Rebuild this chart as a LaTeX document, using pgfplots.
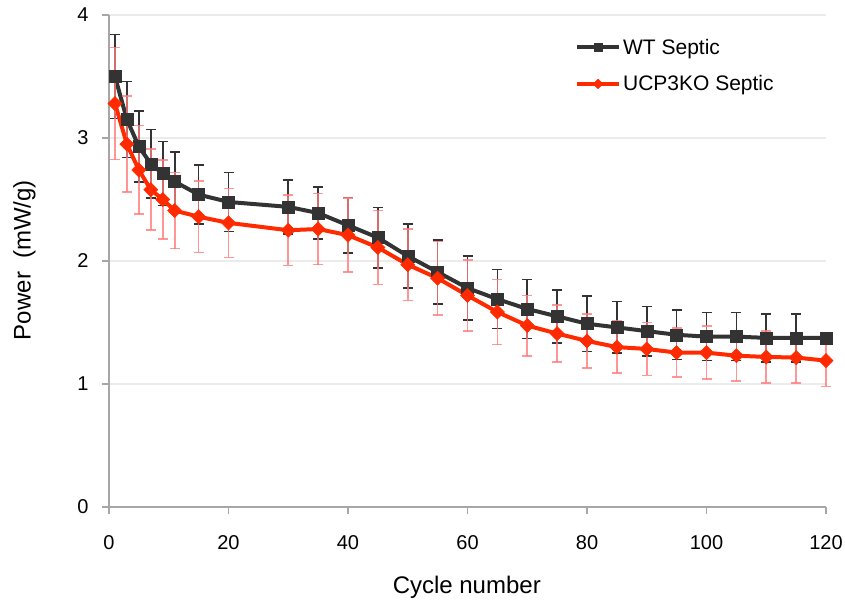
\documentclass[border=0pt]{standalone}
\usepackage{pgfplots}
\pgfplotsset{compat=1.18}
\usepackage{pgfplotstable}
\usepackage{fontspec}
\setmainfont{Liberation Sans}
\definecolor{wtcol}{HTML}{333333}
\definecolor{kocol}{HTML}{FF2A00}
\definecolor{koerr}{HTML}{FF7A7A}
\definecolor{axgray}{HTML}{A6A6A6}
\definecolor{gridgray}{HTML}{EBEBEB}
\pgfplotstableread{
x y e
1 3.50 0.34
3 3.15 0.31
5 2.93 0.29
7 2.79 0.28
9 2.71 0.26
11 2.645 0.24
15 2.54 0.24
20 2.48 0.24
30 2.44 0.22
35 2.39 0.21
40 2.29 0.225
45 2.19 0.245
50 2.04 0.26
55 1.91 0.26
60 1.78 0.26
65 1.69 0.24
70 1.61 0.24
75 1.55 0.215
80 1.49 0.225
85 1.46 0.21
90 1.43 0.20
95 1.40 0.20
100 1.385 0.195
105 1.385 0.195
110 1.375 0.195
115 1.375 0.195
120 1.375 0
}\wt
\pgfplotstableread{
x y e
1 3.28 0.455
3 2.95 0.39
5 2.74 0.36
7 2.58 0.33
9 2.50 0.32
11 2.41 0.31
15 2.36 0.29
20 2.31 0.28
30 2.25 0.285
35 2.26 0.29
40 2.21 0.30
45 2.11 0.30
50 1.97 0.29
55 1.86 0.30
60 1.72 0.29
65 1.585 0.265
70 1.475 0.245
75 1.41 0.23
80 1.35 0.22
85 1.30 0.21
90 1.285 0.215
95 1.255 0.20
100 1.255 0.215
105 1.23 0.205
110 1.22 0.21
115 1.215 0.205
120 1.19 0.21
}\ko
\begin{document}
\begin{tikzpicture}
\begin{axis}[
  name=ax,
  scale only axis,
  width=717pt, height=492pt,
  xmin=0, xmax=120, ymin=0, ymax=4,
  xtick={0,20,...,120}, ytick={0,1,2,3,4},
  axis x line*=bottom, axis y line*=left,
  axis line style={axgray, line width=1.2pt, -},
  tick style={axgray, line width=1.2pt},
  tick align=outside,
  major tick length=7pt,
  ymajorgrids, grid style={gridgray, line width=1.2pt},
  /pgf/number format/assume math mode=true,
  ticklabel style={font=\fontsize{20}{23}\selectfont, text=black},
  xticklabel style={yshift=-18pt},
  yticklabel style={xshift=-10pt},
  xlabel={Cycle number},
  ylabel={Power\ \ (mW/g)},
  label style={font=\fontsize{24}{28}\selectfont},
  xlabel style={at={(axis description cs:0.499,-0.163)}, anchor=center},
  ylabel style={at={(axis description cs:-0.118,0.502)}, anchor=center, rotate=0},
  legend style={draw=none, fill=none, at={(axis description cs:0.647,0.96)}, anchor=north west,
    font=\fontsize{21}{25}\selectfont, row sep=16pt, inner sep=2pt,
    /tikz/every even column/.append style={column sep=0pt}},
  legend cell align=left,
  legend image code/.code={
    \draw[#1, mark=none] (0pt,0pt) -- (42pt,0pt);
    \draw[#1, every mark/.append style={scale=0.68}] plot[only marks] coordinates {(21pt,0pt)};
  },
  clip=false,
]
\addplot[wtcol, line width=4pt, mark=square*, mark size=6pt, mark options={solid, line width=0.5pt},
  error bars/.cd, y dir=both, y explicit,
  error bar style={color=wtcol, line width=1.6pt},
  error mark options={rotate=90, mark size=5pt, line width=1.6pt, wtcol}]
  table[x=x, y=y, y error=e] {\wt};
\addlegendentry{WT Septic}
\addplot[kocol, line width=4pt, mark=square*, mark size=5pt, mark options={solid, rotate=45, line width=0.5pt},
  error bars/.cd, y dir=both, y explicit,
  error bar style={color=koerr, opacity=0.8, line width=1.6pt},
  error mark options={rotate=90, mark size=5pt, line width=1.6pt, koerr, opacity=0.8}]
  table[x=x, y=y, y error=e] {\ko};
\addlegendentry{UCP3KO Septic}
\end{axis}
\pgfresetboundingbox
\path (ax.south west) ++(-109pt,-94pt) coordinate (bl);
\path (ax.north east) ++(19pt,15pt) coordinate (tr);
\path[use as bounding box] (bl) rectangle (tr);
\end{tikzpicture}
\end{document}
